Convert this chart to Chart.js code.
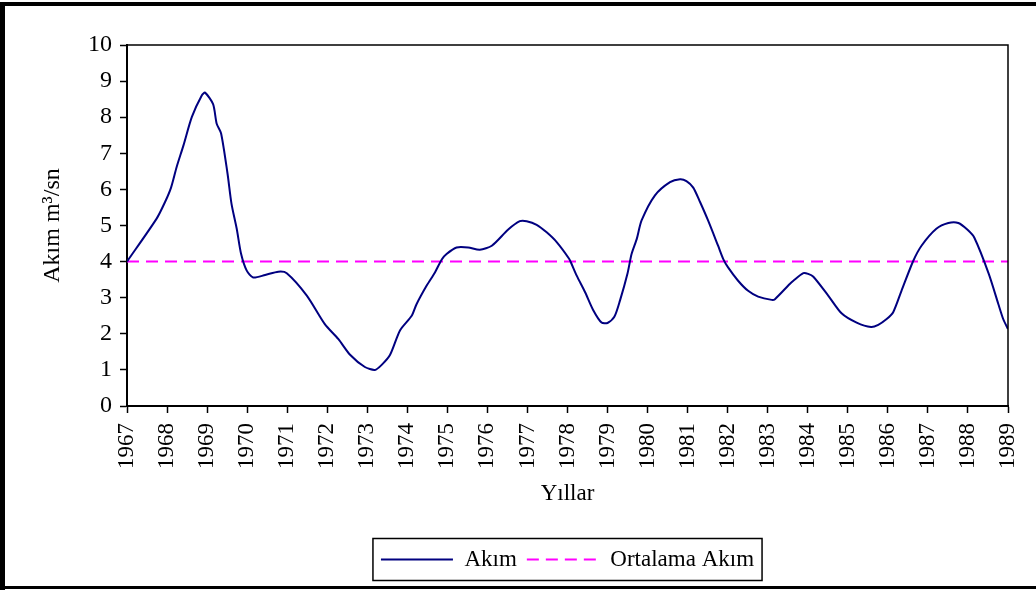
<!DOCTYPE html>
<html>
<head>
<meta charset="utf-8">
<script src="https://cdn.jsdelivr.net/npm/chart.js@4/dist/chart.umd.min.js"></script>
<style>
  body { margin: 0; background: #fff; }
  #wrap { width: 1036px; height: 590px; }
</style>
</head>
<body>
<div id="wrap"><canvas id="myChart" width="1036" height="590"></canvas></div>
<script>
// values (years as decimal, flow in m3/sn)
const years = [
  1967.0, 1967.74, 1967.95, 1968.10, 1968.24, 1968.41, 1968.62, 1968.87, 1968.95,
  1969.15, 1969.24, 1969.35, 1969.51, 1969.61, 1969.74, 1969.85, 1969.99,
  1970.15, 1970.45, 1970.78, 1970.99, 1971.49, 1971.94, 1972.28, 1972.57,
  1972.94, 1973.19, 1973.36, 1973.57, 1973.82, 1974.11, 1974.23, 1974.48,
  1974.69, 1974.86, 1974.98, 1975.23, 1975.52, 1975.81, 1976.11, 1976.52,
  1976.81, 1976.98, 1977.23, 1977.48, 1977.73, 1978.04, 1978.10, 1978.23,
  1978.44, 1978.64, 1978.85, 1979.00, 1979.17, 1979.31, 1979.50, 1979.60,
  1979.73, 1979.85, 1980.18, 1980.56, 1980.81, 1980.97, 1981.14, 1981.31,
  1981.51, 1981.76, 1981.89, 1982.01, 1982.26, 1982.51, 1982.76, 1983.10,
  1983.18, 1983.55, 1983.64, 1983.89, 1984.01, 1984.14, 1984.51, 1984.85,
  1985.22, 1985.58, 1985.76, 1985.97, 1986.13, 1986.34, 1986.63, 1986.84,
  1987.21, 1987.51, 1987.76, 1987.99, 1988.16, 1988.52, 1988.76, 1988.88, 1989.0
];
const flow = [
  4.0, 5.19, 5.65, 6.05, 6.62, 7.22, 8.01, 8.61, 8.68,
  8.36, 7.82, 7.55, 6.44, 5.6, 4.91, 4.21, 3.75,
  3.56, 3.63, 3.72, 3.68, 3.06, 2.27, 1.85, 1.42,
  1.08, 1.0, 1.14, 1.42, 2.10, 2.5, 2.82, 3.33,
  3.70, 4.06, 4.21, 4.39, 4.39, 4.33, 4.44, 4.89,
  5.12, 5.12, 5.02, 4.81, 4.54, 4.08, 3.94, 3.61,
  3.15, 2.66, 2.31, 2.30, 2.47, 2.92, 3.68, 4.21,
  4.63, 5.14, 5.83, 6.20, 6.28, 6.23, 6.05, 5.65,
  5.14, 4.44, 4.07, 3.84, 3.47, 3.19, 3.03, 2.94,
  2.96, 3.38, 3.47, 3.68, 3.66, 3.58, 3.06, 2.56,
  2.31, 2.19, 2.25, 2.41, 2.59, 3.19, 4.01, 4.44,
  4.91, 5.07, 5.07, 4.88, 4.66, 3.66, 2.82, 2.41, 2.13
];
const meanFlow = 4.0;
const yearMin = 1967, yearMax = 1989;
const yTicksMax = 10;

const fontFam = '"Liberation Serif", "Times New Roman", serif';

// white background + outer black frame
const frame = {
  id: 'frame',
  beforeDraw(chart) {
    const c = chart.ctx;
    c.save();
    c.fillStyle = '#fff';
    c.fillRect(0, 0, chart.width, chart.height);
    c.restore();
  },
  afterDraw(chart) {
    const c = chart.ctx;
    const a = chart.chartArea;
    c.save();
    // plot box top + right
    c.strokeStyle = '#000';
    c.lineWidth = 1.5;
    c.beginPath();
    c.moveTo(a.left, a.top);
    c.lineTo(a.right, a.top);
    c.lineTo(a.right, a.bottom);
    c.stroke();
    // legend box
    const lg = chart.legend;
    if (lg && lg.legendHitBoxes.length) {
      const hb = lg.legendHitBoxes;
      const x0 = hb[0].left - 8;
      const x1 = hb[hb.length - 1].left + hb[hb.length - 1].width + 8;
      c.lineWidth = 1.5;
      c.strokeRect(x0, lg.top + 0.5, x1 - x0, lg.height - 1);
    }
    // outer frame
    c.fillStyle = '#000';
    c.fillRect(0, 2, chart.width, 4);
    c.fillRect(0, 2, 5, chart.height - 2);
    c.fillRect(0, chart.height - 4, chart.width, 3);
    c.restore();
  }
};

const ctx = document.getElementById('myChart');
new Chart(ctx, {
  type: 'line',
  data: {
    datasets: [
      {
        label: 'Akım',
        data: years.map((y, i) => ({x: y, y: flow[i]})),
        borderColor: '#000080',
        backgroundColor: '#000080',
        borderWidth: 2,
        pointRadius: 0,
        tension: 0.25
      },
      {
        label: 'Ortalama Akım',
        data: [{x: yearMin, y: meanFlow}, {x: yearMax, y: meanFlow}],
        borderColor: '#ff00ff',
        backgroundColor: '#ff00ff',
        borderWidth: 2,
        borderDash: [12, 7],
        pointRadius: 0
      }
    ]
  },
  plugins: [frame],
  options: {
    responsive: false,
    animation: false,
    layout: { padding: { left: 6, top: 45, right: 28, bottom: 9 } },
    plugins: {
      tooltip: { enabled: false },
      legend: {
        position: 'bottom',
        fullSize: false,
        labels: {
          color: '#000',
          font: { family: fontFam, size: 23 },
          usePointStyle: true,
          pointStyle: 'line',
          pointStyleWidth: 72,
          padding: 10,
          generateLabels(chart) {
            const items = Chart.defaults.plugins.legend.labels.generateLabels(chart);
            items.forEach(it => {
              const ds = chart.data.datasets[it.datasetIndex];
              it.lineDash = ds.borderDash || [];
              it.lineWidth = ds.borderWidth;
            });
            return items;
          }
        }
      }
    },
    scales: {
      x: {
        type: 'linear',
        min: yearMin,
        max: yearMax,
        afterFit(s) {
          s.height = 132;
          s.paddingLeft = 0;
          s.paddingRight = 0;
        },
        grid: { display: true, drawOnChartArea: false, drawTicks: true, tickLength: 7, tickColor: '#000', tickWidth: 1.5 },
        border: { color: '#000', width: 2 },
        ticks: {
          stepSize: 1,
          autoSkip: false,
          minRotation: 90,
          maxRotation: 90,
          padding: 10,
          color: '#000',
          font: { family: fontFam, size: 23 },
          callback: v => String(v)
        },
        title: {
          display: true,
          text: 'Yıllar',
          color: '#000',
          font: { family: fontFam, size: 23 },
          padding: { top: 0, bottom: 30 }
        }
      },
      y: {
        min: 0,
        max: yTicksMax,
        afterFit(s) { s.width = 121; },
        grid: { display: true, drawOnChartArea: false, drawTicks: true, tickLength: 7, tickColor: '#000', tickWidth: 1.5 },
        border: { color: '#000', width: 2 },
        ticks: {
          stepSize: 1,
          padding: 8,
          color: '#000',
          font: { family: fontFam, size: 24 }
        },
        title: {
          display: true,
          text: 'Akım m³/sn',
          color: '#000',
          font: { family: fontFam, size: 24 },
          padding: { top: 32, bottom: 0 }
        }
      }
    }
  }
});
</script>
</body>
</html>
